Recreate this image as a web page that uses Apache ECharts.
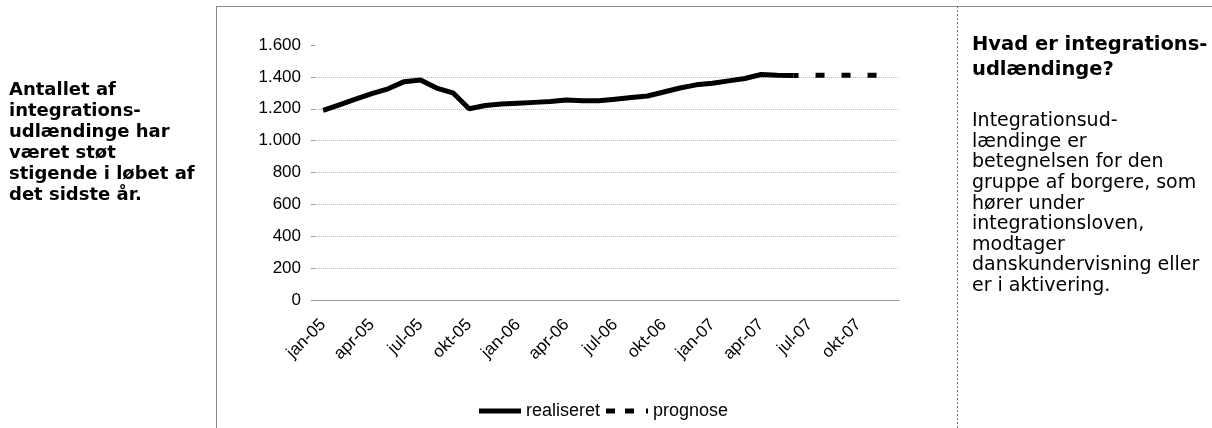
<!DOCTYPE html>
<html>
<head>
<meta charset="utf-8">
<script src="https://cdn.jsdelivr.net/npm/echarts@6/dist/echarts.min.js"></script>
<style>
  body { margin: 0; background: #fff; }
  #chart { width: 1212px; height: 428px; }
</style>
</head>
<body>
<div id="chart"></div>
<script>
// maanedskategorier jan-05 .. dec-07
const months = [
  'jan-05', 'feb-05', 'mar-05', 'apr-05', 'maj-05', 'jun-05', 'jul-05', 'aug-05', 'sep-05', 'okt-05', 'nov-05', 'dec-05',
  'jan-06', 'feb-06', 'mar-06', 'apr-06', 'maj-06', 'jun-06', 'jul-06', 'aug-06', 'sep-06', 'okt-06', 'nov-06', 'dec-06',
  'jan-07', 'feb-07', 'mar-07', 'apr-07', 'maj-07', 'jun-07', 'jul-07', 'aug-07', 'sep-07', 'okt-07', 'nov-07', 'dec-07'
];
// realiseret antal, jan-05 .. jun-07
const realiseret = [
  1190, 1225, 1260, 1295, 1325, 1370, 1380, 1330, 1300, 1200, 1220, 1230,
  1235, 1240, 1245, 1255, 1250, 1250, 1260, 1270, 1280, 1305, 1330, 1350,
  1360, 1375, 1390, 1415, 1410, 1408
];
// prognose jun-07 .. dec-07
const prognoseStart = 29;
const prognose = [1408, 1410, 1410, 1410, 1410, 1410, 1410];
const yTicks = [0, 200, 400, 600, 800, 1000, 1200, 1400, 1600];

const leftText = 'Antallet af\nintegrations-\nudlændinge har\nværet støt\nstigende i løbet af\ndet sidste år.';
const boxTitle = 'Hvad er integrations-\nudlændinge?';
const boxText = 'Integrationsud-\nlændinge er\nbetegnelsen for den\ngruppe af borgere, som\nhører under\nintegrationsloven,\nmodtager\ndanskundervisning eller\ner i aktivering.';

const prognoseData = new Array(prognoseStart).fill('-').concat(prognose);

// punktum som tusindtalsseparator
function fmt(v) {
  return String(v).replace(/\B(?=(\d{3})+(?!\d))/g, '.');
}

const myChart = echarts.init(document.getElementById('chart'), null, { renderer: 'canvas' });

const option = {
  backgroundColor: '#fff',
  animation: false,
  grid: { left: 315, top: 45, width: 584, height: 255 },
  legend: {
    left: 474,
    top: 397,
    itemWidth: 42,
    itemHeight: 5,
    itemGap: 6,
    textStyle: { fontFamily: 'Liberation Sans', fontSize: 18, color: '#000' },
    data: [
      { name: 'realiseret', icon: 'path://M0,0H42V5H0Z' },
      { name: 'prognose', icon: 'path://M0,0H9V5H0Z M19,0H28V5H19Z M40,0H42V5H40Z' }
    ]
  },
  xAxis: {
    type: 'category',
    data: months,
    boundaryGap: true,
    axisTick: { show: false },
    axisLine: { lineStyle: { color: '#999', width: 1 } },
    axisLabel: {
      interval: 2,
      rotate: 45,
      margin: 22,
      color: '#000',
      fontFamily: 'Liberation Sans',
      fontSize: 17
    }
  },
  yAxis: {
    type: 'value',
    min: yTicks[0],
    max: yTicks[yTicks.length - 1],
    interval: 200,
    axisLine: { show: false },
    axisTick: { show: true, length: 4, lineStyle: { color: '#999' } },
    axisLabel: {
      margin: 14,
      color: '#000',
      fontFamily: 'Liberation Sans',
      fontSize: 17,
      formatter: fmt
    },
    splitLine: {
      lineStyle: {
        type: 'dotted',
        width: 1,
        color: ['transparent', '#bbb', '#bbb', '#bbb', '#bbb', '#bbb', '#bbb', '#bbb', 'transparent']
      }
    }
  },
  series: [
    {
      name: 'realiseret',
      type: 'line',
      data: realiseret,
      showSymbol: false,
      symbol: 'none',
      lineStyle: { color: '#000', width: 5 },
      itemStyle: { color: '#000' }
    },
    {
      name: 'prognose',
      type: 'line',
      data: prognoseData,
      showSymbol: false,
      symbol: 'none',
      lineStyle: { color: '#000', width: 5, type: [9, 17], dashOffset: 4 },
      itemStyle: { color: '#000' }
    }
  ],
  graphic: [
    // ramme
    { type: 'line', shape: { x1: 216.5, y1: 6, x2: 216.5, y2: 428 }, style: { stroke: '#888', lineWidth: 1 } },
    { type: 'line', shape: { x1: 216, y1: 6.5, x2: 1212, y2: 6.5 }, style: { stroke: '#888', lineWidth: 1 } },
    { type: 'line', shape: { x1: 957.5, y1: 6, x2: 957.5, y2: 428 }, style: { stroke: '#777', lineWidth: 1, lineDash: [2, 2] } },
    // tekst til venstre
    {
      type: 'text', left: 9, top: 80,
      style: { text: leftText, font: 'bold 18px "DejaVu Sans"', lineHeight: 21, fill: '#000' }
    },
    // boks til hoejre
    {
      type: 'text', left: 972, top: 32,
      style: { text: boxTitle, font: 'bold 19.5px "DejaVu Sans"', lineHeight: 25, fill: '#000' }
    },
    {
      type: 'text', left: 972, top: 111,
      style: { text: boxText, font: '19px "DejaVu Sans"', lineHeight: 20.6, fill: '#000' }
    }
  ]
};

myChart.setOption(option);
</script>
</body>
</html>
